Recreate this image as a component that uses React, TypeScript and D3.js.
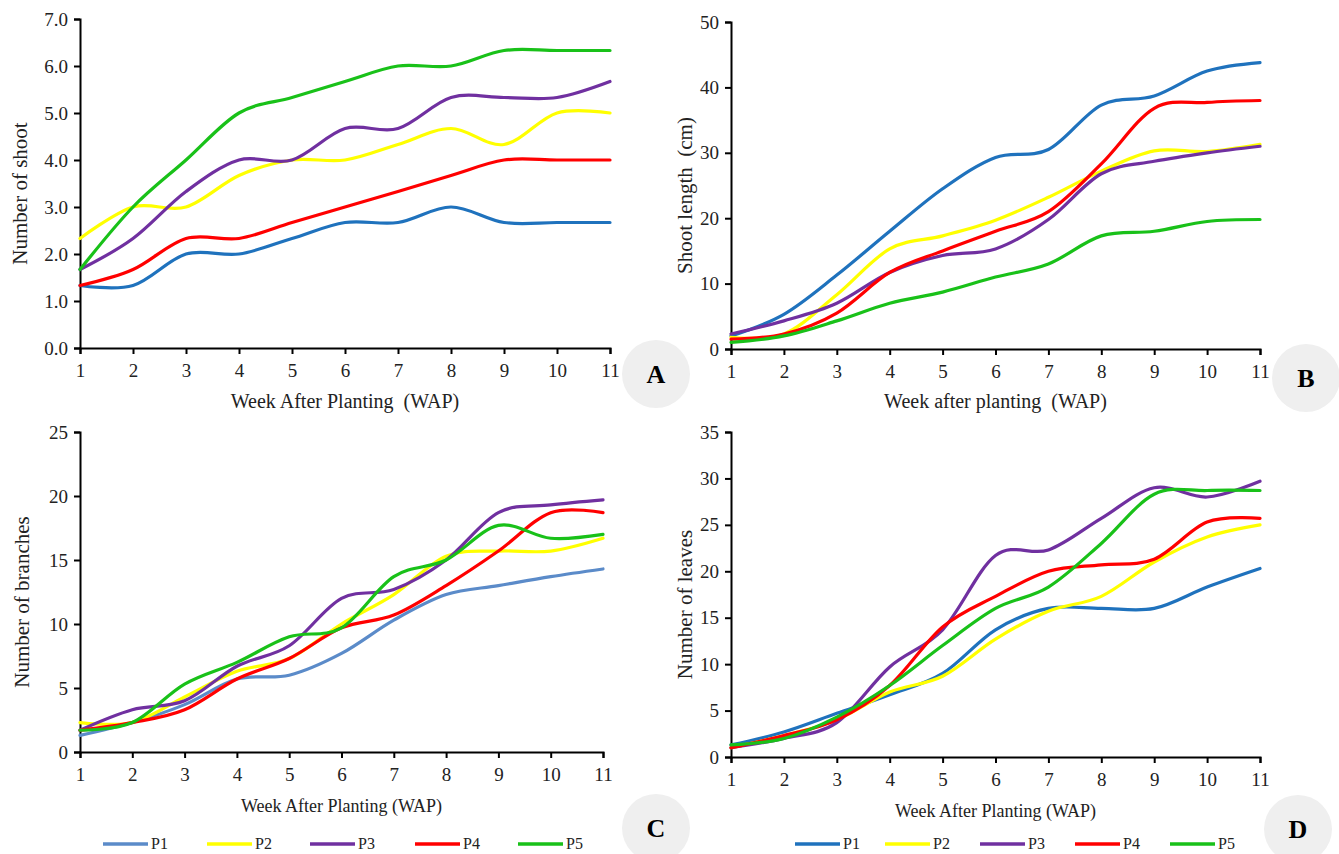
import { useRef, useEffect } from "react";
import * as d3 from "d3";

const weeks = [1, 2, 3, 4, 5, 6, 7, 8, 9, 10, 11];
const seriesNames = ["P1", "P2", "P3", "P4", "P5"];

// A: number of shoot
const shootP1 = [1.33, 1.33, 2.0, 2.0, 2.33, 2.67, 2.67, 3.0, 2.67, 2.67, 2.67];
const shootP2 = [2.33, 3.0, 3.0, 3.67, 4.0, 4.0, 4.33, 4.67, 4.33, 5.0, 5.0];
const shootP3 = [1.67, 2.33, 3.33, 4.0, 4.0, 4.67, 4.67, 5.33, 5.33, 5.33, 5.67];
const shootP4 = [1.33, 1.67, 2.33, 2.33, 2.67, 3.0, 3.33, 3.67, 4.0, 4.0, 4.0];
const shootP5 = [1.67, 3.0, 4.0, 5.0, 5.33, 5.67, 6.0, 6.0, 6.33, 6.33, 6.33];

// B: shoot length (cm)
const lengthP1 = [2.0, 5.3, 11.3, 18.0, 24.5, 29.3, 30.5, 37.3, 38.7, 42.5, 43.8];
const lengthP2 = [1.8, 2.3, 8.3, 15.3, 17.3, 19.7, 23.2, 27.2, 30.3, 30.2, 31.3];
const lengthP3 = [2.3, 4.3, 7.0, 11.7, 14.3, 15.3, 19.8, 26.8, 28.7, 30.0, 31.0];
const lengthP4 = [1.5, 2.3, 5.5, 11.7, 15.0, 18.0, 21.0, 28.3, 36.8, 37.7, 38.0];
const lengthP5 = [1.0, 2.0, 4.3, 7.0, 8.7, 11.0, 13.0, 17.3, 18.0, 19.5, 19.8];

// C: number of branches
const branchP1 = [1.3, 2.3, 3.7, 5.7, 6.0, 7.7, 10.3, 12.3, 13.0, 13.7, 14.3];
const branchP2 = [2.3, 2.3, 4.3, 6.3, 7.3, 10.0, 12.3, 15.3, 15.7, 15.7, 16.7];
const branchP3 = [1.7, 3.3, 4.0, 6.7, 8.3, 12.0, 12.7, 15.0, 18.7, 19.3, 19.7];
const branchP4 = [1.7, 2.3, 3.3, 5.7, 7.3, 9.7, 10.7, 13.0, 15.7, 18.7, 18.7];
const branchP5 = [1.7, 2.3, 5.3, 7.0, 9.0, 9.7, 13.7, 15.0, 17.7, 16.7, 17.0];

// D: number of leaves
const leafP1 = [1.3, 2.7, 4.7, 6.7, 9.0, 13.7, 16.0, 16.0, 16.0, 18.3, 20.3];
const leafP2 = [1.0, 2.3, 4.0, 7.0, 8.7, 12.7, 15.7, 17.3, 21.0, 23.7, 25.0];
const leafP3 = [1.0, 2.0, 3.7, 9.7, 13.7, 21.7, 22.3, 25.7, 29.0, 28.0, 29.7];
const leafP4 = [1.0, 2.3, 4.0, 7.7, 14.0, 17.3, 20.0, 20.7, 21.3, 25.3, 25.7];
const leafP5 = [1.3, 2.0, 4.3, 7.7, 12.0, 16.0, 18.3, 23.0, 28.3, 28.7, 28.7];

const colorsMain = ["#1f72bd", "#ffff00", "#7030a0", "#ff0000", "#19c119"];
const colorsC = ["#5b8bc9", "#ffff00", "#7030a0", "#ff0000", "#19c119"];

const FONT = "Liberation Serif, Times New Roman, serif";

const panels = [
  {
    letter: "A", series: [shootP1, shootP2, shootP3, shootP4, shootP5], colors: colorsMain,
    yMax: 7, yStep: 1, fmt: ".1f", yTitle: "Number of shoot", xTitle: "Week After Planting  (WAP)",
    left: 80, right: 610, top: 19, bottom: 348, yTitleX: 20, xTitleY: 408, titleSize: 20,
    circle: [656, 374], legendY: null,
  },
  {
    letter: "B", series: [lengthP1, lengthP2, lengthP3, lengthP4, lengthP5], colors: colorsMain,
    yMax: 50, yStep: 10, fmt: "d", yTitle: "Shoot length  (cm)", xTitle: "Week after planting  (WAP)",
    left: 731, right: 1260, top: 22, bottom: 349, yTitleX: 685, xTitleY: 408, titleSize: 20,
    circle: [1306, 378], legendY: null,
  },
  {
    letter: "C", series: [branchP1, branchP2, branchP3, branchP4, branchP5], colors: colorsC,
    yMax: 25, yStep: 5, fmt: "d", yTitle: "Number of branches", xTitle: "Week After Planting (WAP)",
    left: 80, right: 603, top: 432, bottom: 752, yTitleX: 22, xTitleY: 812, titleSize: 18,
    circle: [656, 828], legendY: 844, legendX: [103, 207, 310, 415, 518],
  },
  {
    letter: "D", series: [leafP1, leafP2, leafP3, leafP4, leafP5], colors: colorsMain,
    yMax: 35, yStep: 5, fmt: "d", yTitle: "Number of leaves", xTitle: "Week After Planting (WAP)",
    left: 731, right: 1260, top: 432, bottom: 757, yTitleX: 685, xTitleY: 817, titleSize: 18,
    circle: [1298, 829], legendY: 844, legendX: [795, 885, 980, 1075, 1170],
  },
];

export default function App() {
  const svgRef = useRef<SVGSVGElement>(null);

  useEffect(() => {
    const svg = d3.select(svgRef.current);
    svg.selectAll("*").remove();
    svg.style("font-family", FONT);

    panels.forEach((p) => {
      const g = svg.append("g");

      // letter badge
      g.append("circle")
        .attr("cx", p.circle[0]).attr("cy", p.circle[1]).attr("r", 34)
        .attr("fill", "#efefef");
      g.append("text")
        .attr("x", p.circle[0]).attr("y", p.circle[1] + 9)
        .attr("text-anchor", "middle")
        .style("font-family", FONT).style("font-size", "26px").style("font-weight", "bold")
        .text(p.letter);

      const x = d3.scaleLinear().domain([1, 11]).range([p.left, p.right]);
      const y = d3.scaleLinear().domain([0, p.yMax]).range([p.bottom, p.top]);

      const yTicks = d3.range(0, p.yMax + p.yStep / 2, p.yStep);
      const yAxis = g.append("g")
        .attr("transform", `translate(${p.left},0)`)
        .call(d3.axisLeft(y).tickValues(yTicks).tickFormat(d3.format(p.fmt)).tickSize(6).tickPadding(6));
      const xAxis = g.append("g")
        .attr("transform", `translate(0,${p.bottom})`)
        .call(d3.axisBottom(x).tickValues(weeks).tickFormat(d3.format("d")).tickSize(6).tickPadding(6));

      [yAxis, xAxis].forEach((a) => {
        a.attr("font-family", null).attr("font-size", null);
        a.select(".domain").attr("stroke", "#000").attr("stroke-width", 2);
        a.selectAll(".tick line").attr("stroke", "#000").attr("stroke-width", 2);
        a.selectAll(".tick text")
          .style("font-family", FONT).style("font-size", "19px").attr("fill", "#222");
      });
      xAxis.selectAll(".tick text").attr("dy", "0.9em");

      // lines
      const line = d3.line<number>()
        .x((_, i) => x(weeks[i]))
        .y((d) => y(d))
        .curve(d3.curveCatmullRom.alpha(0));

      p.series.forEach((s, i) => {
        g.append("path")
          .datum(s)
          .attr("d", line)
          .attr("fill", "none")
          .attr("stroke", p.colors[i])
          .attr("stroke-width", 3.2)
          .attr("stroke-linecap", "round");
      });

      // titles
      g.append("text")
        .attr("x", (p.left + p.right) / 2)
        .attr("y", p.xTitleY)
        .attr("text-anchor", "middle")
        .style("font-family", FONT).style("font-size", `${p.titleSize}px`).attr("fill", "#222")
        .style("white-space", "pre")
        .text(p.xTitle);
      g.append("text")
        .attr("transform", `translate(${p.yTitleX},${(p.top + p.bottom) / 2 + 10}) rotate(-90)`)
        .attr("text-anchor", "middle")
        .attr("dy", "0.35em")
        .style("font-family", FONT).style("font-size", "21px").attr("fill", "#222")
        .style("white-space", "pre")
        .text(p.yTitle);

      // legend
      if (p.legendY !== null && p.legendX) {
        p.legendX.forEach((lx, i) => {
          g.append("line")
            .attr("x1", lx).attr("x2", lx + 45)
            .attr("y1", p.legendY).attr("y2", p.legendY)
            .attr("stroke", p.colors[i]).attr("stroke-width", 3.5);
          g.append("text")
            .attr("x", lx + 48).attr("y", p.legendY + 5)
            .style("font-family", FONT).style("font-size", "16px").attr("fill", "#222")
            .text(seriesNames[i]);
        });
      }
    });
  }, []);

  return (
    <svg
      ref={svgRef}
      width={1339}
      height={854}
      style={{ display: "block", position: "absolute", left: 0, top: 0, background: "#fff" }}
    />
  );
}
